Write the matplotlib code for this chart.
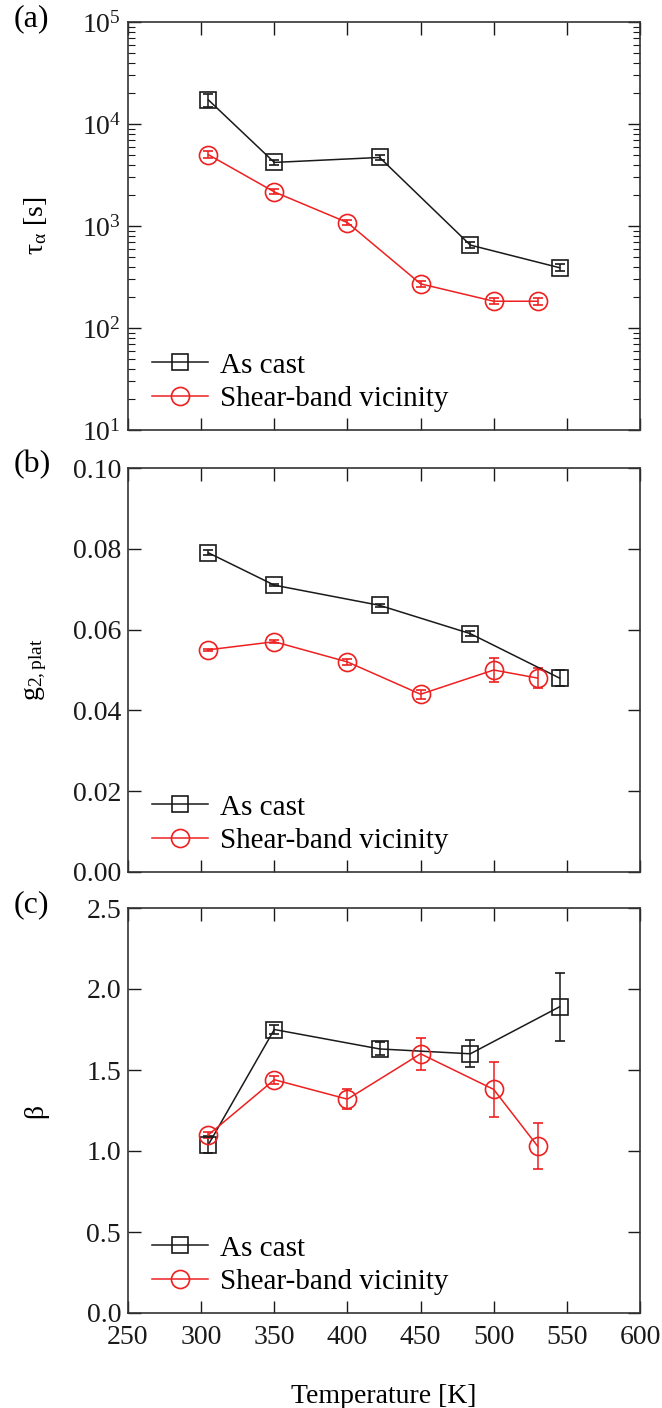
import matplotlib
matplotlib.use("Agg")
import matplotlib.pyplot as plt
import numpy as np
from matplotlib.lines import Line2D
from matplotlib.ticker import LogLocator, MultipleLocator, FormatStrFormatter, NullLocator

plt.rcParams["font.family"] = ["Liberation Serif", "DejaVu Serif"]
plt.rcParams["mathtext.fontset"] = "custom"
plt.rcParams["mathtext.rm"] = "Liberation Serif"
plt.rcParams["mathtext.it"] = "Liberation Serif:italic"

# temperatures [K]
temp_cast = [305, 350, 422, 484, 545]
temp_shear = [305, 350, 400, 450, 500, 530]

# (a) relaxation time tau_alpha [s]
tau_cast = [17200, 4200, 4700, 650, 390]
tau_cast_err = [2500, 200, 300, 40, 30]
tau_shear = [5000, 2160, 1080, 271, 183, 183]
tau_shear_err = [400, 120, 60, 20, 12, 15]

# (b) plateau g2
g2_cast = [0.079, 0.071, 0.066, 0.059, 0.048]
g2_cast_err = [0.0006, 0.0003, 0.0003, 0.0006, 0.0019]
g2_shear = [0.055, 0.057, 0.052, 0.044, 0.050, 0.048]
g2_shear_err = [0.0003, 0.0004, 0.0007, 0.0011, 0.003, 0.0024]

# (c) stretching exponent beta
beta_cast = [1.04, 1.75, 1.63, 1.60, 1.89]
beta_cast_err = [0.05, 0.03, 0.04, 0.083, 0.21]
beta_shear = [1.10, 1.44, 1.32, 1.60, 1.38, 1.03]
beta_shear_err = [0.02, 0.025, 0.06, 0.10, 0.17, 0.14]

W, H = 662, 1408
fig = plt.figure(figsize=(W / 100, H / 100), dpi=100)

left = 128 / W
width = 512 / W
panels = [(22, 430), (468, 872), (908, 1313)]
axes = [fig.add_axes([left, 1 - b / H, width, (b - t) / H]) for t, b in panels]

black = "#1a1a1a"
red = "#ee2020"
fs = 20
style_cast = dict(color=black, lw=1.1, marker="s", ms=12, mfc="none", mec=black, mew=1.2)
style_shear = dict(color=red, lw=1.1, marker="o", ms=13, mfc="none", mec=red, mew=1.2)


def draw(ax, y_cast, e_cast, y_shear, e_shear):
    ax.errorbar(temp_cast, y_cast, yerr=e_cast, capsize=3.5, elinewidth=1.1,
                capthick=1.1, **style_cast)
    ax.errorbar(temp_shear, y_shear, yerr=e_shear, capsize=3.5, elinewidth=1.1,
                capthick=1.1, **style_shear)
    ax.set_xlim(250, 600)
    ax.xaxis.set_major_locator(MultipleLocator(50))
    ax.xaxis.set_minor_locator(NullLocator())
    ax.tick_params(which="both", direction="in", top=True, right=True,
                   labelsize=fs, colors=black)
    ax.tick_params(which="major", length=9, width=1.0, pad=5)
    ax.tick_params(axis="x", which="major", pad=9)
    ax.tick_params(which="minor", length=5, width=0.8)
    for s in ax.spines.values():
        s.set_linewidth(1.2)
        s.set_color("#333333")
    handles = [Line2D([], [], **style_cast), Line2D([], [], **style_shear)]
    ax.legend(handles, ["As cast", "Shear-band vicinity"], loc="lower left",
              bbox_to_anchor=(0.025, 0.015), frameon=False, fontsize=21,
              handlelength=1.9, handletextpad=0.4, labelspacing=0.25,
              borderaxespad=0.2, borderpad=0.2)


ax_a, ax_b, ax_c = axes

draw(ax_a, tau_cast, tau_cast_err, tau_shear, tau_shear_err)
ax_a.set_yscale("log")
ax_a.set_ylim(10, 1e5)
ax_a.yaxis.set_major_locator(LogLocator(base=10, numticks=10))
ax_a.yaxis.set_minor_locator(LogLocator(base=10, subs=np.arange(2, 10), numticks=10))
ax_a.set_xticklabels([])
ax_a.set_ylabel("τ$_{\\mathregular{α}}$ [s]", fontsize=fs)

draw(ax_b, g2_cast, g2_cast_err, g2_shear, g2_shear_err)
ax_b.set_ylim(0, 0.10)
ax_b.yaxis.set_major_locator(MultipleLocator(0.02))
ax_b.yaxis.set_major_formatter(FormatStrFormatter("%.2f"))
ax_b.set_xticklabels([])
ax_b.set_ylabel("g$_{\\mathregular{2,plat}}$", fontsize=fs)

draw(ax_c, beta_cast, beta_cast_err, beta_shear, beta_shear_err)
ax_c.set_ylim(0, 2.5)
ax_c.yaxis.set_major_locator(MultipleLocator(0.5))
ax_c.yaxis.set_major_formatter(FormatStrFormatter("%.1f"))
ax_c.set_ylabel("β", fontsize=fs)
ax_c.set_xlabel("Temperature [K]", fontsize=fs, labelpad=24)

for ax, lab, (t, b) in zip(axes, ["(a)", "(b)", "(c)"], panels):
    fig.text(14 / W, 1 - (t - 3) / H, lab, fontsize=23, va="center", ha="left")

for ax in axes:
    ax.yaxis.set_label_coords(-0.155, 0.5)

fig.savefig("out.png", dpi=100)
